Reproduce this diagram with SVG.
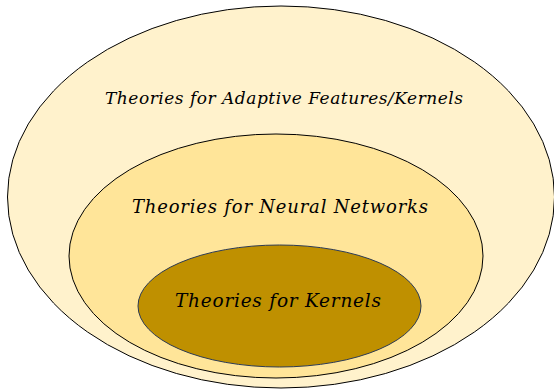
<svg xmlns="http://www.w3.org/2000/svg" width="554" height="389" viewBox="0 0 554 389">
<style>
  .lbl { font-family: "DejaVu Serif", "Liberation Serif", serif; font-style: italic; fill: #000; }
  .ring { stroke: #000; stroke-width: 1; }
</style>
<rect width="554" height="389" fill="#fff"/>
<g id="outer">
  <ellipse class="ring" cx="281" cy="197" rx="273.5" ry="191" fill="#FFF2CC"/>
  <text class="lbl" x="105" y="104" font-size="17" textLength="358" lengthAdjust="spacing">Theories for Adaptive Features/Kernels</text>
</g>
<g id="middle">
  <ellipse class="ring" cx="276" cy="256" rx="207" ry="122" fill="#FFE599"/>
  <text class="lbl" x="132" y="213" font-size="18" textLength="296" lengthAdjust="spacing">Theories for Neural Networks</text>
</g>
<g id="inner">
  <ellipse cx="279.5" cy="306" rx="141.5" ry="61" fill="#BF9000" stroke="#2B3A55" stroke-width="1"/>
  <text class="lbl" x="175" y="307" font-size="18.5" textLength="206" lengthAdjust="spacing">Theories for Kernels</text>
</g>
<g id="connectors"/>
</svg>
